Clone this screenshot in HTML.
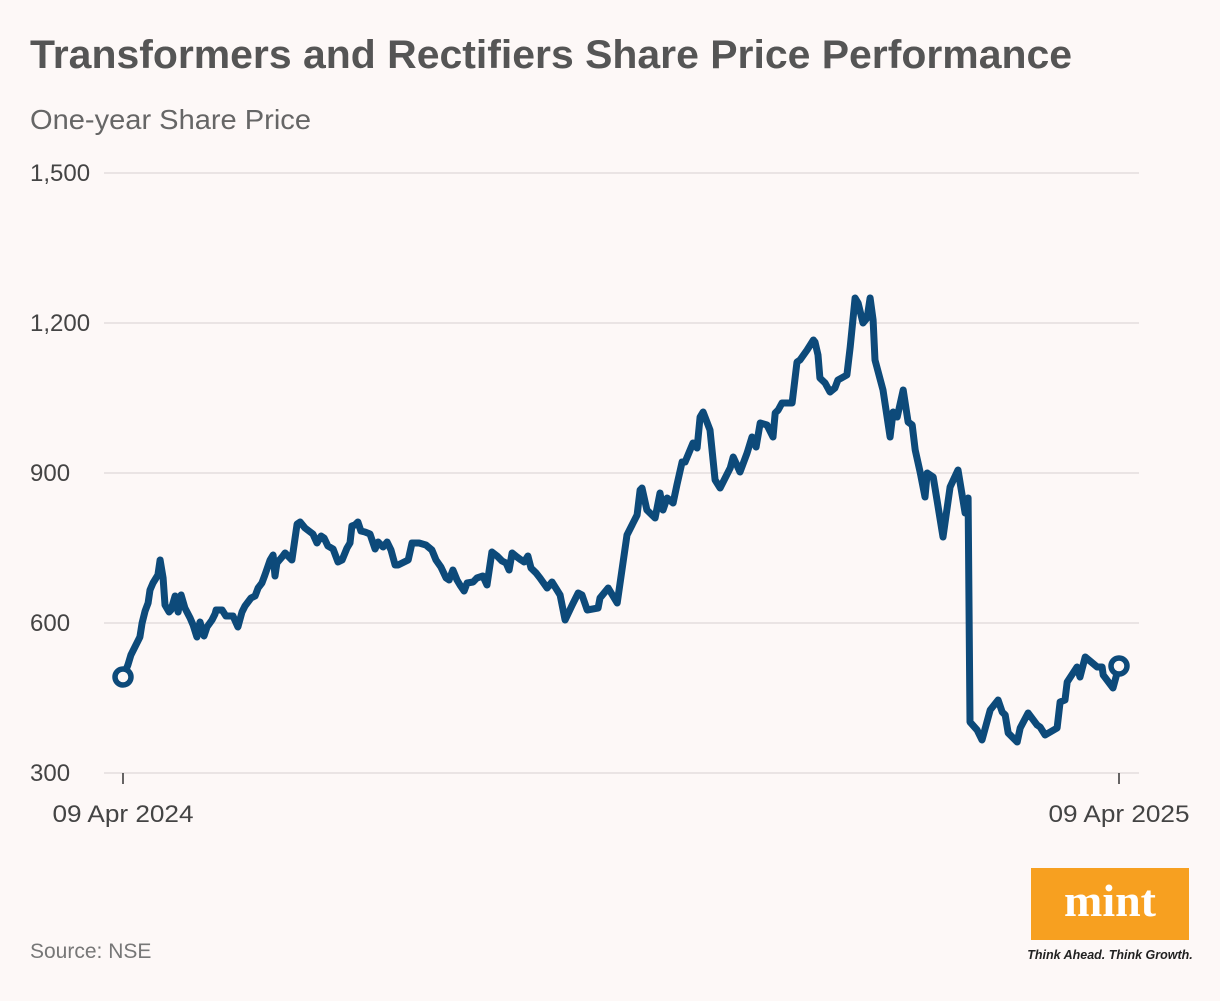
<!DOCTYPE html>
<html><head><meta charset="utf-8"><style>
html,body{margin:0;padding:0;background:#fdf8f7;}
body{width:1220px;height:996px;position:relative;overflow:hidden;font-family:"Liberation Sans",sans-serif;}
</style></head><body>
<svg id="chart" width="1220" height="996" xmlns="http://www.w3.org/2000/svg">
<rect width="1220" height="996" fill="#fdf8f7"/>
<text x="30" y="68" font-size="40" font-weight="bold" fill="#555" textLength="1042" lengthAdjust="spacingAndGlyphs">Transformers and Rectifiers Share Price Performance</text>
<text x="30" y="129" font-size="28" fill="#666" textLength="281" lengthAdjust="spacingAndGlyphs">One-year Share Price</text>
<g id="grid"></g>
<g id="yticks"></g>
<g id="xticks"></g>
<g id="series"></g>
<text x="30" y="958" font-size="21" fill="#777">Source: NSE</text>
<g>
<rect x="1031" y="868" width="158" height="72" fill="#f7a020"/>
<text x="1110" y="916" text-anchor="middle" font-family="Liberation Serif,serif" font-weight="bold" font-size="46" fill="#fff">mint</text>
<text x="1110" y="959" text-anchor="middle" font-size="12.5" font-style="italic" font-weight="bold" fill="#222">Think Ahead. Think Growth.</text>
</g>
</svg>
<script>
const yTicks=[300,600,900,1200,1500];
const yTickLabels=["300","600","900","1,200","1,500"];
const xTickDays=[0,365];
const xTickLabels=["09 Apr 2024","09 Apr 2025"];
const days=[0,1.8,2.9,5.1,6.2,7.0,8.1,9.2,9.9,11.0,12.8,13.6,14.7,15.4,16.9,17.6,19.1,20.2,21.3,22.7,24.6,25.7,27.1,28.2,29.7,30.8,32.6,33.7,34.1,36.3,37.7,40.3,42.1,43.6,44.7,46.9,48.4,49.5,50.9,52.0,53.9,55.0,55.7,56.4,58.6,59.4,61.9,63.8,64.9,66.7,69.6,71.1,72.6,73.7,75.1,77.0,78.8,80.3,82.1,83.2,83.9,85.0,86.1,87.2,88.7,90.5,92.4,93.5,95.3,96.8,98.2,99.7,100.8,104.5,105.9,108.5,111.0,113.2,114.7,116.5,118.4,119.5,120.9,122.4,123.5,125.0,126.1,128.3,129.7,131.9,133.4,135.2,137.1,138.9,140.4,141.5,142.6,144.4,145.9,147.0,148.4,149.5,151.4,152.8,155.4,157.2,160.2,162.0,164.6,166.8,168.2,170.1,174.1,174.8,177.8,181.1,184.7,188.4,189.5,190.2,192.0,195.0,196.8,197.9,199.4,201.6,203.0,204.9,206.0,208.9,210.4,211.5,212.6,215.1,217.0,218.8,222.5,223.6,226.1,228.7,230.5,232.0,233.5,236.0,238.2,239.0,240.1,241.5,245.2,247.0,248.1,250.7,253.0,253.6,254.7,255.4,257.3,259.1,260.9,262.0,265.3,266.5,268.3,269.4,271.2,272.7,273.8,274.9,275.6,278.5,281.1,282.2,283.7,285.9,287.7,289.2,290.3,292.1,293.9,294.7,296.9,298.3,300.5,303.1,306.0,308.6,309.7,310.4,313.0,314.8,317.8,320.7,322.2,323.3,324.4,327.7,328.8,331.7,335.0,336.1,337.9,342.3,343.4,345.2,346.0,349.6,350.7,352.6,357.0,358.8,359.2,362.8,365];
const prices=[492,516,536,560,572,600,624,640,666,680,696,726,690,636,622,626,654,622,656,630,610,596,572,602,574,592,606,618,626,626,614,614,592,622,634,650,654,670,680,696,726,736,694,720,734,740,726,798,802,790,778,760,774,770,754,748,722,726,750,760,794,796,802,784,782,778,748,762,752,762,746,716,716,726,760,760,756,746,726,712,690,686,706,686,676,664,680,682,690,694,676,742,734,724,720,706,740,732,726,722,734,710,700,690,670,682,656,606,636,660,656,626,630,650,670,640,776,816,866,870,826,810,860,826,850,840,876,922,922,960,950,1012,1022,986,886,870,910,932,902,940,972,952,1000,996,972,1020,1026,1040,1040,1122,1126,1146,1166,1162,1136,1090,1080,1062,1070,1086,1096,1152,1250,1240,1200,1210,1250,1206,1126,1066,972,1022,1012,1066,1002,996,946,902,852,900,892,846,772,872,906,820,850,402,386,366,426,446,422,416,380,362,390,420,396,392,376,390,442,446,482,512,492,532,512,512,496,470,514,518];
const NS="http://www.w3.org/2000/svg";
const X0=123,X1=1119,Y0=773,Y1=173;
function xScale(d){return X0+(d/365)*(X1-X0);}
function yScale(v){return Y0-(v-300)/1200*(Y0-Y1);}
function mk(tag,attrs,parent){const e=document.createElementNS(NS,tag);for(const k in attrs)e.setAttribute(k,attrs[k]);parent.appendChild(e);return e;}
const grid=document.getElementById('grid'),yt=document.getElementById('yticks'),xt=document.getElementById('xticks'),ser=document.getElementById('series');
yTicks.forEach((v,i)=>{
  const l=mk('line',{x1:104,x2:1139,y1:yScale(v),y2:yScale(v),stroke:'#e3dede','stroke-width':1.5},grid);
  
  
  const t=mk('text',{x:30,y:yScale(v)+8,'font-size':24,fill:'#444'},yt);
  t.textContent=yTickLabels[i];
  
  
});
xTickDays.forEach((d,i)=>{
  const l=mk('line',{x1:xScale(d),x2:xScale(d),y1:773,y2:784,stroke:'#333','stroke-width':1.5},xt);
  
  
  const t=mk('text',{x:xScale(d),y:822,'font-size':24,fill:'#444','text-anchor':'middle',textLength:141,lengthAdjust:'spacingAndGlyphs'},xt);
  t.textContent=xTickLabels[i];
  
  
});
const pts=days.map((d,i)=>xScale(d).toFixed(1)+','+yScale(prices[i]).toFixed(1)).join(' ');
const pl=mk('polyline',{points:pts,fill:'none',stroke:'#0d4a7a','stroke-width':7,'stroke-linejoin':'round','stroke-linecap':'round'},ser);


[0,days.length-1].forEach(i=>{
  const c=mk('circle',{cx:xScale(days[i]),cy:yScale(prices[i]),r:8,fill:'#fdf8f7',stroke:'#0d4a7a','stroke-width':5.5},ser);
  
  
});
</script>
</body></html>
